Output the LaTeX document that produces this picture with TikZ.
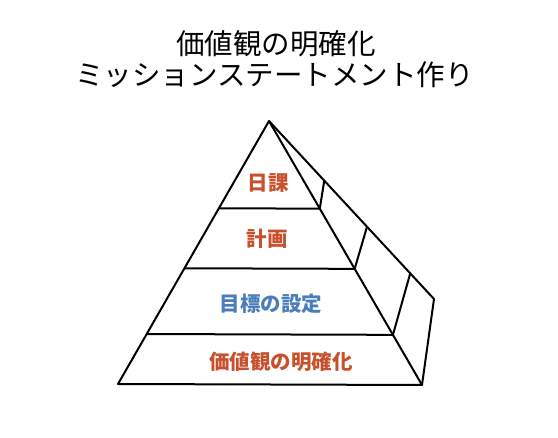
\documentclass[tikz,border=0pt]{standalone}
\usepackage{fontspec}
\setmainfont{Noto Sans CJK JP}
\usetikzlibrary{calc}
\definecolor{lblred}{RGB}{200,80,45}
\definecolor{lblblue}{RGB}{74,126,187}
\tikzset{
  edge/.style={draw=black, line width=2pt, line join=round},
  titletext/.style={font=\fontsize{28.5}{30}\selectfont, text=black, inner sep=0pt},
  lbl/.style={font=\fontsize{20.5}{22}\selectfont\bfseries, inner sep=0pt},
}
\begin{document}
\begin{tikzpicture}[x=1pt,y=-1pt]
\useasboundingbox (0,0) rectangle (558,438);
\node[titletext] (t1) at (276,43.5) {価値観の明確化};
\node[titletext] (t2) at (274.5,75) {ミッションステートメント作り};
\coordinate (A) at (269,121);
\coordinate (BL) at (118,384);
\coordinate (BR) at (422,385);
\coordinate (C) at (434,299);
\coordinate (L1) at ($(A)!0.332!(BL)$);
\coordinate (R1) at ($(A)!0.332!(BR)$);
\coordinate (L2) at ($(A)!0.560!(BL)$);
\coordinate (R2) at ($(A)!0.560!(BR)$);
\coordinate (L3) at ($(A)!0.810!(BL)$);
\coordinate (R3) at ($(A)!0.810!(BR)$);
\coordinate (K1) at ($(A)!0.335!(C)$);
\coordinate (K2) at ($(A)!0.594!(C)$);
\coordinate (K3) at ($(A)!0.856!(C)$);
\draw[edge] (BL) -- (A) -- (BR) -- cycle;
\draw[edge] (A) -- (C) -- (BR);
\draw[edge] (L1) -- (R1);
\draw[edge] (L2) -- (R2);
\draw[edge] (L3) -- (R3);
\draw[edge] (R1) -- (K1);
\draw[edge] (R2) -- (K2);
\draw[edge] (R3) -- (K3);
\node[lbl, text=lblred] (n1) at (268,183) {日課};
\node[lbl, text=lblred] (n2) at (267,239) {計画};
\node[lbl, text=lblblue] (n3) at (271,304) {目標の設定};
\node[lbl, text=lblred] (n4) at (281,362) {価値観の明確化};
\end{tikzpicture}
\end{document}
